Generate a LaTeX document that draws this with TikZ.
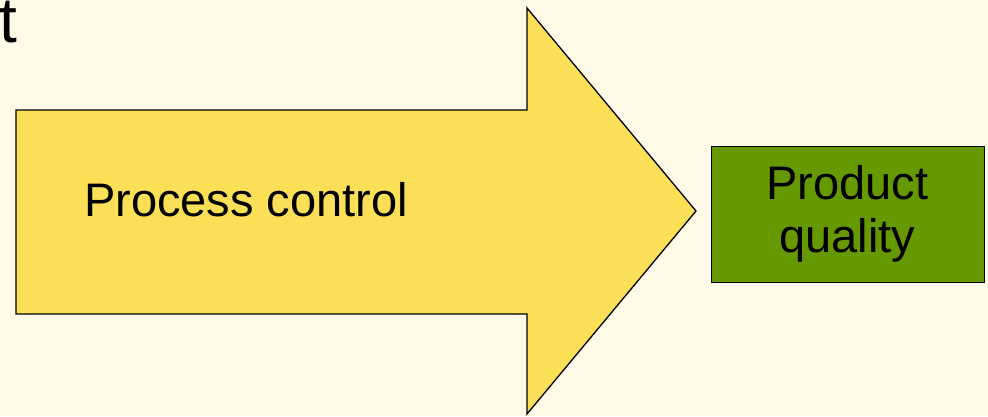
\documentclass[tikz,border=0pt]{standalone}
\usepackage{fontspec}
\setmainfont{Liberation Sans}
\definecolor{bgcream}{HTML}{FFF9E7}
\definecolor{arrowyellow}{HTML}{FADF57}
\definecolor{boxgreen}{HTML}{669900}
\begin{document}
\begin{tikzpicture}[x=1pt,y=-1pt,
  lbl/.style={font=\fontsize{47}{53}\selectfont, text=black, align=center, inner sep=0pt},
  outl/.style={draw=black, line width=1.3pt, line join=miter}]
\useasboundingbox[fill=bgcream] (0,0) rectangle (988,416);
\begin{scope}
\clip (0,0) rectangle (988,416);
\node[font=\fontsize{64}{70}\selectfont, anchor=base east, inner sep=0pt] (title) at (17,42) {t};
\end{scope}
\draw[outl, fill=arrowyellow] (16,110) -- (527,110) -- (527,8) -- (696,211) -- (527,414) -- (527,314) -- (16,314) -- cycle;
\node[lbl] (pc) at (246,200) {Process control};
\node[outl, line width=1pt, fill=boxgreen, minimum width=273pt, minimum height=136pt, inner sep=0pt] (pq) at (847.5,214) {};
\node[lbl] (pqt) at (pq.center) {Product\\quality};
\end{tikzpicture}
\end{document}
